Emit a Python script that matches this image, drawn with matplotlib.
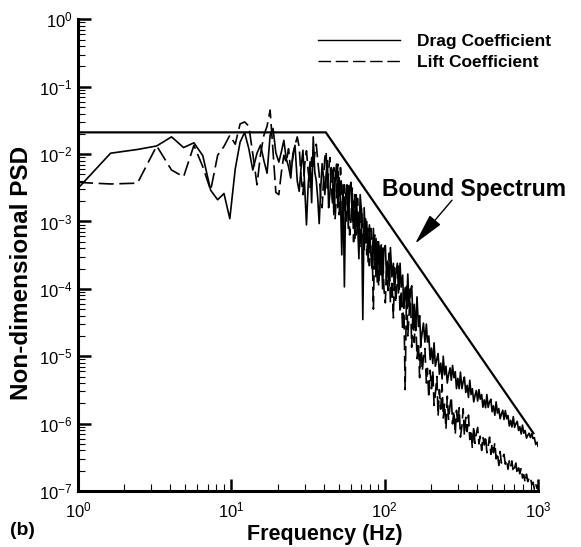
import numpy as np
import matplotlib
matplotlib.use("Agg")
import matplotlib.pyplot as plt

plt.rcParams['font.family'] = ['Liberation Sans', 'DejaVu Sans']
plt.rcParams['mathtext.fontset'] = 'custom'
plt.rcParams['mathtext.rm'] = 'Liberation Sans'
plt.rcParams['mathtext.it'] = 'Liberation Sans:italic'
plt.rcParams['mathtext.bf'] = 'Liberation Sans:bold'
plt.rcParams['axes.unicode_minus'] = False

# --------------------------------------------------
# DATA
# --------------------------------------------------

# low frequencies: individual spectral lines
freq_low = [
    1.0, 1.63, 2.44, 3.26, 4.07, 4.88, 5.70, 6.51, 7.33, 8.14,
    8.95, 9.77, 10.6, 11.4, 12.2, 13.0, 13.8, 14.7, 15.5, 16.3,
    17.1, 17.9, 18.7, 19.5, 20.4, 21.2, 22.0, 22.8, 23.6, 24.4,
    25.2, 26.0]
drag_low = [
    3.1e-3, 1.03e-2, 1.17e-2, 1.32e-2, 1.8e-2, 1.25e-2, 1.47e-2, 9.5e-3, 2.9e-3, 2.1e-3,
    2.6e-3, 1.1e-3, 6.0e-3, 1.5e-2, 2.1e-2, 1.2e-2, 5.8e-3, 1.03e-2, 1.36e-2, 8.0e-3,
    5.2e-3, 1.9e-2, 2.4e-2, 1.05e-2, 7.6e-3, 1.08e-2, 1.6e-2, 8.5e-3, 6.5e-3, 4.4e-3,
    1.01e-2, 1.35e-2]
lift_low = [
    3.8e-3, 3.6e-3, 3.7e-3, 1.32e-2, 5.8e-3, 4.6e-3, 1.35e-2, 6.5e-3, 2.9e-3, 9.6e-3,
    1.3e-2, 1.9e-2, 1.4e-2, 2.8e-2, 3.0e-2, 2.6e-2, 1.0e-2, 3.5e-3, 1.0e-2, 1.9e-2,
    2.6e-2, 4.5e-2, 1.1e-2, 2.7e-3, 2.5e-3, 5.4e-3, 9.6e-3, 7.5e-3, 1.2e-2, 5.5e-3,
    9.0e-3, 1.35e-2]

# mid frequencies: both signals overlap in one noisy band
freq_mid = [
    26.9, 27.7, 28.5, 29.3, 30.1, 30.9, 31.7, 32.6, 33.4, 34.2,
    35.0, 35.8, 36.6, 37.4, 38.3, 39.1, 39.9, 40.7, 41.5, 42.3,
    43.1, 43.9, 44.8, 45.7, 46.6, 47.5, 48.5, 49.5, 50.5, 51.5,
    52.5, 53.5, 54.6, 55.7, 56.8, 57.9, 59.1, 60.3, 61.5, 62.7,
    64.0, 65.2, 66.5, 67.9, 69.2, 70.6, 72.0, 73.5, 74.9, 76.4,
    78.0, 79.5, 81.1, 82.7, 84.4, 86.1, 87.8, 89.5, 91.3, 93.2,
    95.0, 96.9, 98.9]
drag_mid = [
    4.0e-3, 2.8e-3, 6.3e-3, 1.14e-2, 3.2e-3, 8.9e-4, 3.5e-3, 7.7e-3, 1.9e-3, 1.8e-2,
    5.4e-3, 4.0e-3, 2.2e-3, 9.3e-4, 3.2e-3, 7.2e-3, 4.5e-3, 2.5e-3, 5.0e-3, 8.0e-3,
    1.6e-3, 2.5e-3, 6.3e-3, 5.6e-3, 1.26e-3, 4.0e-3, 7.1e-3, 1.6e-3, 4.5e-3, 2.2e-3,
    3.2e-4, 3.5e-3, 1.07e-4, 2.5e-3, 3.5e-3, 7.9e-4, 3.2e-3, 3.8e-3, 1.0e-3, 2.0e-3,
    5.6e-4, 2.5e-3, 1.0e-3, 2.8e-4, 2.5e-3, 1.4e-3, 3.5e-5, 1.6e-3, 5.0e-4, 1.0e-3,
    2.5e-4, 8.9e-4, 3.5e-4, 2.0e-4, 7.9e-4, 2.2e-4, 5.6e-4, 1.26e-4, 5.0e-4, 1.8e-4,
    4.5e-4, 1.0e-4, 4.0e-4]
lift_mid = [
    1.8e-2, 1.26e-2, 4.5e-3, 2.5e-3, 7.1e-3, 1.12e-2, 5.6e-3, 3.2e-3, 8.9e-3, 6.3e-3,
    1.0e-2, 1.4e-2, 7.9e-3, 5.0e-3, 2.2e-3, 1.6e-3, 4.0e-3, 8.9e-3, 1.1e-2, 2.8e-3,
    5.6e-3, 8.9e-3, 3.5e-3, 1.8e-3, 6.3e-3, 1.1e-3, 2.5e-3, 7.1e-3, 1.26e-3, 6.3e-3,
    2.8e-3, 7.9e-4, 3.5e-3, 1.0e-3, 1.6e-3, 3.5e-3, 6.3e-4, 1.1e-3, 3.2e-3, 5.0e-4,
    2.5e-3, 6.3e-4, 2.2e-3, 7.9e-4, 4.0e-4, 1.6e-3, 6.3e-4, 3.5e-4, 1.1e-3, 3.2e-4,
    7.9e-4, 2.2e-4, 7.9e-4, 5.0e-4, 5.0e-5, 6.3e-4, 1.4e-4, 5.0e-4, 1.1e-4, 4.5e-4,
    1.6e-4, 4.0e-4, 1.0e-4]

# high frequencies: the two bands split apart
freq_high = [
    101, 103, 105, 107, 109, 111.5, 114, 116, 118, 121,
    123, 126, 128, 131, 133, 136, 139, 141.5, 144, 147,
    150, 153, 156, 159, 162.5, 166, 169, 172, 176, 179,
    183, 187, 190, 194, 198, 202, 206, 210, 214, 219,
    223, 227.5, 232, 237, 241, 246, 251, 256, 261, 267,
    272, 277, 283, 288.5, 294, 300, 306, 312, 319, 325,
    331, 338, 345, 352, 359, 366, 373, 381, 388, 396,
    404, 412, 420, 429, 437, 446, 455, 464, 473, 483,
    492.5, 502, 512, 523, 533, 544, 555, 566, 577, 589,
    600, 612, 625, 637, 650, 663, 676, 690, 703.5, 718,
    732, 747, 761.5, 777, 792, 808, 824, 841, 858, 875,
    892, 910, 928, 947, 966, 985, 1000]
drag_high = [
    4.4e-4, 1.4e-4, 2.6e-4, 1.1e-4, 4.1e-4, 1.5e-4, 2.4e-4, 9.5e-5, 1.6e-4, 2.4e-4,
    8.7e-5, 2.4e-4, 1.06e-4, 1.6e-4, 5.2e-5, 1.04e-4, 5.2e-5, 1.66e-4, 5.4e-5, 8.8e-5,
    1.11e-4, 3.5e-5, 5.9e-5, 2.4e-5, 7.6e-5, 2.75e-5, 4.0e-5, 1.57e-5, 2.3e-5, 3.1e-5,
    1.62e-5, 3.0e-5, 1.62e-5, 2.0e-5, 8.9e-6, 1.32e-5, 7.8e-6, 1.58e-5, 7.1e-6, 9.1e-6,
    1.1e-5, 5.4e-6, 7.9e-6, 4.6e-6, 1.0e-5, 5.3e-6, 7.1e-6, 4.0e-6, 5.3e-6, 6.7e-6,
    4.4e-6, 7.3e-6, 4.8e-6, 5.9e-6, 3.3e-6, 4.7e-6, 3.3e-6, 5.8e-6, 3.3e-6, 4.2e-6,
    4.9e-6, 2.9e-6, 3.7e-6, 2.45e-6, 4.4e-6, 2.7e-6, 3.3e-6, 2.1e-6, 2.6e-6, 3.1e-6,
    2.16e-6, 3.2e-6, 2.3e-6, 2.7e-6, 1.75e-6, 2.25e-6, 1.72e-6, 2.7e-6, 1.74e-6, 2.1e-6,
    2.3e-6, 1.5e-6, 1.84e-6, 1.33e-6, 2.1e-6, 1.43e-6, 1.67e-6, 1.18e-6, 1.38e-6, 1.58e-6,
    1.15e-6, 1.56e-6, 1.18e-6, 1.32e-6, 9.2e-7, 1.12e-6, 8.9e-7, 1.27e-6, 8.8e-7, 1.0e-6,
    1.08e-6, 7.9e-7, 9.0e-7, 7.0e-7, 9.5e-7, 7.2e-7, 7.9e-7, 6.1e-7, 6.7e-7, 7.2e-7,
    6.2e-7, 7.1e-7, 6.0e-7, 6.2e-7, 4.9e-7, 5.3e-7, 4.6e-7]
lift_high = [
    6.2e-5, 2.5e-4, 9.4e-5, 3.4e-4, 6.2e-5, 1.35e-4, 3.7e-5, 2.05e-4, 6.2e-5, 1.36e-4,
    2.16e-4, 4.4e-5, 9.4e-5, 2.4e-5, 9.6e-5, 3.2e-6, 1.09e-4, 2.0e-5, 3.8e-5, 1.0e-4,
    1.36e-5, 4.5e-5, 1.6e-5, 4.6e-5, 9.2e-6, 1.6e-5, 4.8e-6, 1.76e-5, 6.0e-6, 9.7e-6,
    1.3e-5, 4.0e-6, 6.6e-6, 2.4e-6, 6.2e-6, 3.3e-6, 6.1e-6, 1.86e-6, 2.75e-6, 5.0e-6,
    1.29e-6, 3.2e-6, 1.64e-6, 3.8e-6, 1.21e-6, 2.0e-6, 8.3e-7, 2.55e-6, 1.13e-6, 1.87e-6,
    2.5e-6, 9.9e-7, 1.55e-6, 6.9e-7, 1.58e-6, 9.6e-7, 1.72e-6, 6.3e-7, 9.3e-7, 1.66e-6,
    6.6e-7, 1.24e-6, 7.6e-7, 1.34e-6, 5.8e-7, 8.1e-7, 4.3e-7, 9.2e-7, 5.1e-7, 7.1e-7,
    8.8e-7, 5.0e-7, 6.5e-7, 4.0e-7, 6.4e-7, 4.8e-7, 6.6e-7, 3.7e-7, 4.55e-7, 6.3e-7,
    3.5e-7, 5.1e-7, 3.7e-7, 5.2e-7, 3.0e-7, 3.7e-7, 2.4e-7, 3.85e-7, 2.6e-7, 3.2e-7,
    3.5e-7, 2.5e-7, 2.9e-7, 2.1e-7, 2.8e-7, 2.3e-7, 2.8e-7, 1.9e-7, 2.2e-7, 2.6e-7,
    1.77e-7, 2.2e-7, 1.8e-7, 2.2e-7, 1.56e-7, 1.75e-7, 1.33e-7, 1.78e-7, 1.38e-7, 1.55e-7,
    1.63e-7, 1.24e-7, 1.35e-7, 1.06e-7, 1.27e-7, 1.09e-7, 1.22e-7]

# bound spectrum: flat plateau then power-law roll-off
bound_f = [1.0, 41.3, 933]
bound_psd = [0.021, 0.021, 7.2e-7]

labels = ["Drag Coefficient", "Lift Coefficient"]

freq_hz = np.concatenate([freq_low, freq_mid, freq_high])
psd_drag = np.concatenate([drag_low, drag_mid, drag_high])
psd_lift = np.concatenate([lift_low, lift_mid, lift_high])

# --------------------------------------------------
# PLOT
# --------------------------------------------------

fig = plt.figure(figsize=(5.81, 5.47), dpi=100)
ax = fig.add_axes([0.1343, 0.1024, 0.7917, 0.8623])

ax.plot(freq_hz, psd_drag, color='k', lw=1.2, ls='solid', label=labels[0])
ax.plot(freq_hz, psd_lift, color='k', lw=1.2, ls=(0, (9, 3.4)), label=labels[1])
ax.plot(bound_f, bound_psd, color='k', lw=1.6, solid_joinstyle='miter')

ax.set_xscale('log')
ax.set_yscale('log')
ax.set_xlim(1, 1000)
ax.set_ylim(1e-7, 1)

for s in ['top', 'right']:
    ax.spines[s].set_visible(False)
for s in ['left', 'bottom']:
    ax.spines[s].set_linewidth(2.2)

ax.tick_params(which='major', direction='in', length=9, width=1.8, labelsize=12, pad=4)
ax.tick_params(which='minor', direction='in', length=5, width=0.8)
ax.tick_params(axis='x', which='major', pad=7)
ax.yaxis.set_major_locator(matplotlib.ticker.LogLocator(base=10, numticks=10))
ax.yaxis.set_minor_locator(matplotlib.ticker.LogLocator(base=10, subs=np.arange(2, 10), numticks=10))

ax.set_xlabel("Frequency (Hz)", fontsize=15.5, fontweight='bold')
ax.set_ylabel("Non-dimensional PSD", fontsize=17.5, fontweight='bold')
ax.xaxis.set_label_coords(0.537, -0.07)
ax.yaxis.set_label_coords(-0.098, 0.462)

leg = ax.legend(loc='upper left', bbox_to_anchor=(318/581, 1-34/547), bbox_transform=fig.transFigure,
                frameon=False, borderpad=0, borderaxespad=0, handlelength=4.7, handletextpad=1.0,
                labelspacing=0.32, prop={'weight': 'bold', 'size': 12.5})
for h in leg.get_lines():
    h.set_linewidth(1.0)

ax.text(96.2, 2.37e-3, "Bound Spectrum", fontsize=16.5, fontweight='bold', va='baseline', ha='left')
ax.annotate("", xy=(158, 4.7e-4), xytext=(275, 2.07e-3),
            arrowprops=dict(arrowstyle='-|>,head_length=1.3,head_width=0.3', mutation_scale=15,
                            lw=1.0, color='k', shrinkA=0, shrinkB=0))

fig.text(10/581, 1-535/547, "(b)", fontsize=14, fontweight='bold', ha='left', va='baseline')

fig.savefig("out.png", dpi=100)
plt.close("all")
